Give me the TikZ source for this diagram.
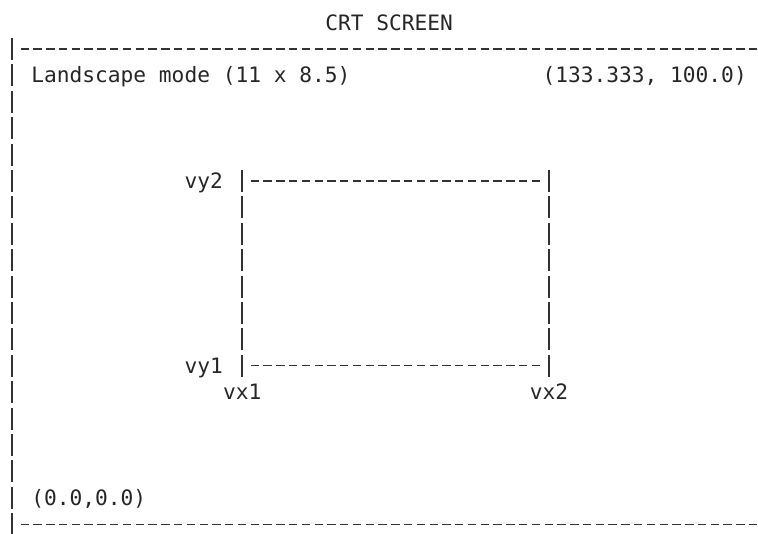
\documentclass[tikz,border=0pt]{standalone}
\usepackage{fontspec}
\setmonofont{DejaVu Sans Mono}
\begin{document}
\begin{tikzpicture}[x=1pt,y=-1pt,
  ink/.style={black!80},
  hdash/.style={ink, line width=1.3pt, dash pattern=on 8.38pt off 4.4pt, dash phase=10.58pt},
  vbar/.style={ink, line width=1.5pt, dash pattern=on 22pt off 4.4pt, dash phase=24.2pt},
  lbl/.style={anchor=base west, inner sep=0pt, text=black!85,
    font=\ttfamily\frenchspacing\fontsize{21.2pt}{26pt}\selectfont}]
\useasboundingbox (0,0) rectangle (758,534);
% grid: column c left edge = 5.6+12.78c ; row r centre = 22.6+26.4r
% ---- texts ----
\node[lbl] (title) at ({5.6+12.78*25},{22.6+26.4*0+7.5}) {CRT SCREEN};
\node[lbl] (mode)  at ({5.6+12.78*2},{22.6+26.4*2+7.5}) {Landscape mode (11 x 8.5)};
\node[lbl] (tr)    at ({5.6+12.78*42},{22.6+26.4*2+7.5}) {(133.333, 100.0)};
\node[lbl] (vy2)   at ({5.6+12.78*14},{22.6+26.4*6+7.5}) {vy2};
\node[lbl] (vy1)   at ({5.6+12.78*14},{22.6+26.4*13+7.5}) {vy1};
\node[lbl] (vx1)   at ({5.6+12.78*17},{22.6+26.4*14+7.5}) {vx1};
\node[lbl] (vx2)   at ({5.6+12.78*41},{22.6+26.4*14+7.5}) {vx2};
\node[lbl] (orig)  at ({5.6+12.78*2},{22.6+26.4*18+7.5}) {(0.0,0.0)};
% ---- screen frame ----
\coordinate (sTL) at ({12},{22.6+26.4*1-13.2});
\coordinate (sBL) at ({12},{22.6+26.4*19+13.2});
\draw[vbar] (sTL) -- (sBL);
\coordinate (topA) at ({5.6+12.78*1},{22.6+26.4*1});
\coordinate (topB) at ({5.6+12.78*59},{22.6+26.4*1});
\draw[hdash] (topA) -- (topB);
\coordinate (botA) at ({5.6+12.78*1},{22.6+26.4*19});
\coordinate (botB) at ({5.6+12.78*59},{22.6+26.4*19});
\draw[hdash] (botA) -- (botB);
% ---- viewport ----
\coordinate (vL1) at ({12+12.78*18},{22.6+26.4*6-13.2});
\coordinate (vL2) at ({12+12.78*18},{22.6+26.4*13+13.2});
\coordinate (vR1) at ({12+12.78*42},{22.6+26.4*6-13.2});
\coordinate (vR2) at ({12+12.78*42},{22.6+26.4*13+13.2});
\draw[vbar] (vL1) -- (vL2);
\draw[vbar] (vR1) -- (vR2);
\coordinate (vTa) at ({5.6+12.78*19},{22.6+26.4*6});
\coordinate (vTb) at ({5.6+12.78*42},{22.6+26.4*6});
\coordinate (vBa) at ({5.6+12.78*19},{22.6+26.4*13});
\coordinate (vBb) at ({5.6+12.78*42},{22.6+26.4*13});
\draw[hdash] (vTa) -- (vTb);
\draw[hdash] (vBa) -- (vBb);
\end{tikzpicture}
\end{document}
